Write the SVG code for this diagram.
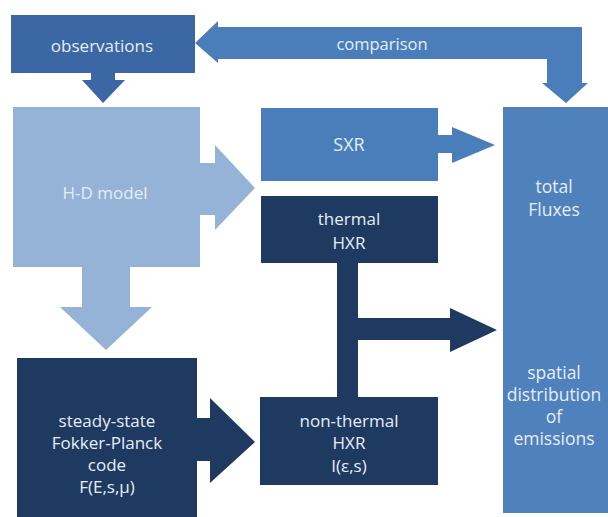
<svg xmlns="http://www.w3.org/2000/svg" width="608" height="517" viewBox="0 0 608 517">
<style>
text{font-family:"Open Sans","Liberation Sans",sans-serif;font-size:17px;fill:#e6edf6;text-anchor:middle;dominant-baseline:central}
.big{font-size:17.5px}
.obs{fill:#3b67a4}
.mid{fill:#4a7ebb}
.light{fill:#95b3d7}
.dark{fill:#1f3a60}
</style>
<rect width="608" height="517" fill="#ffffff"/>
<g id="connectors">
<polygon class="obs" points="91,73 115,73 115,80 125,80 103,103 82,80 91,80"/>
<polygon class="mid" points="195,43 218,21 218,27 582,27 582,83 588,83 566,103 542,83 547,83 547,59 218,59 218,63"/>
<polygon class="light" points="199,163 215,163 215,145 255,188 215,230 215,215 199,215"/>
<polygon class="light" points="82,266 130,266 130,307 152,307 106,350 60,307 82,307"/>
<polygon class="mid" points="437,135 452,135 452,127 495,145 452,163 452,153 437,153"/>
<polygon class="dark" points="337,262 358,262 358,318 450,318 450,308 497,330 450,352 450,340 358,340 358,398 337,398"/>
<polygon class="dark" points="196,418 210,418 210,398 255,442 210,483 210,461 196,461"/>
<text x="382" y="43" style="font-size:16.5px">comparison</text>
</g>
<g id="observations">
<rect class="obs" x="11" y="15" width="184" height="58"/>
<text x="102" y="45">observations</text>
</g>
<g id="hd-model">
<rect class="light" x="13" y="107" width="187" height="160"/>
<text x="105" y="192" style="fill:#e4ecf6">H-D model</text>
</g>
<g id="sxr">
<rect class="mid" x="261" y="108" width="177" height="73"/>
<text x="349" y="144" style="font-size:18px">SXR</text>
</g>
<g id="thermal-hxr">
<rect class="dark" x="261" y="196" width="177" height="67"/>
<text x="349" y="218">thermal</text>
<text x="349" y="242">HXR</text>
</g>
<g id="fokker-planck">
<rect class="dark" x="17" y="358" width="180" height="159"/>
<text x="107" y="420">steady-state</text>
<text x="107" y="442">Fokker-Planck</text>
<text x="107" y="464">code</text>
<text x="107" y="486">F(E,s,μ)</text>
</g>
<g id="non-thermal-hxr">
<rect class="dark" x="260" y="397" width="178" height="88"/>
<text x="349" y="420">non-thermal</text>
<text x="349" y="442">HXR</text>
<text x="349" y="465">I(ε,s)</text>
</g>
<g id="total-fluxes">
<rect x="503" y="107" width="105" height="406" fill="#4f81bd"/>
<text class="big" x="554" y="186">total</text>
<text class="big" x="554" y="209">Fluxes</text>
<text class="big" x="554" y="372">spatial</text>
<text class="big" x="554" y="394">distribution</text>
<text class="big" x="554" y="416">of</text>
<text class="big" x="554" y="438">emissions</text>
</g>
</svg>
